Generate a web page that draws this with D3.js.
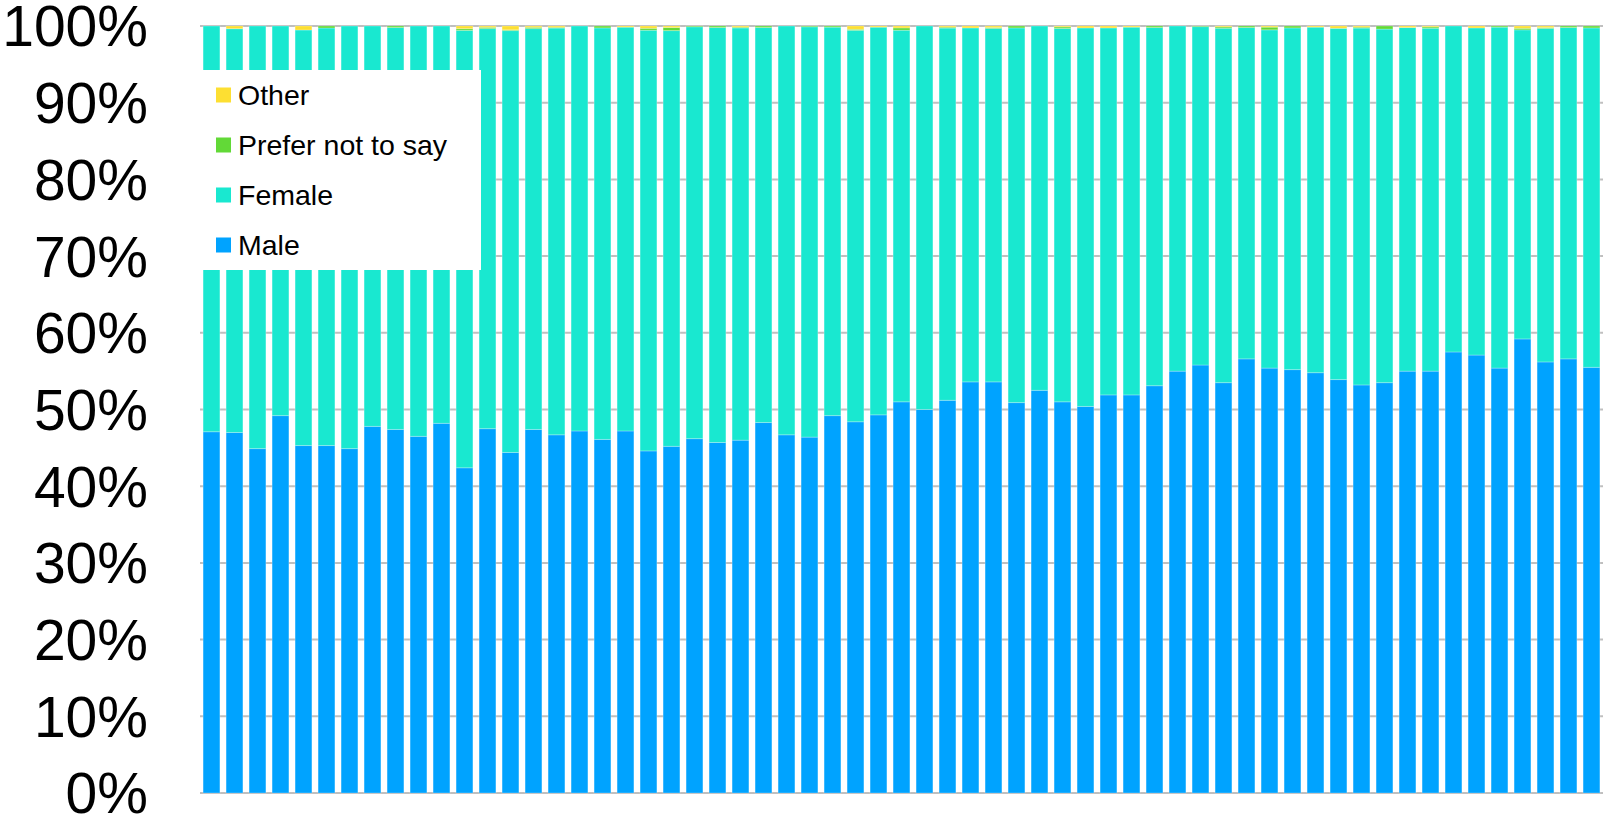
<!DOCTYPE html>
<html>
<head>
<meta charset="utf-8">
<script src="https://cdn.jsdelivr.net/npm/d3@7"></script>
<style>
    body { margin: 0; background: #fff; }
    svg { display: block; font-family: "Liberation Sans", Arial, sans-serif; }
</style>
</head>
<body>
<svg id="chart" width="1603" height="818"></svg>
<script>
// share of respondents (%) per bar, left to right
var male = [47.1, 47.0, 44.9, 49.2, 45.3, 45.3, 44.9, 47.8, 47.4, 46.5,
    48.2, 42.4, 47.5, 44.4, 47.4, 46.7, 47.2, 46.1, 47.2, 44.6,
    45.2, 46.2, 45.7, 46.0, 48.3, 46.7, 46.4, 49.2, 48.4, 49.3,
    51.0, 50.0, 51.2, 53.6, 53.6, 50.9, 52.5, 51.0, 50.4, 51.9,
    51.9, 53.1, 55.0, 55.8, 53.5, 56.6, 55.4, 55.2, 54.8, 53.9,
    53.2, 53.5, 55.0, 55.0, 57.5, 57.1, 55.4, 59.2, 56.2, 56.6,
    55.5];
var preferNot = [0, 0, 0, 0, 0, 0.26, 0, 0, 0.2, 0,
    0, 0.22, 0.17, 0.1, 0.17, 0.1, 0, 0.25, 0, 0.25,
    0.4, 0.1, 0.2, 0.1, 0.2, 0, 0.1, 0.15, 0.13, 0,
    0.3, 0, 0.12, 0, 0.12, 0.25, 0, 0.2, 0, 0,
    0, 0.2, 0, 0.08, 0.17, 0.2, 0.35, 0.25, 0, 0,
    0.12, 0.4, 0, 0.17, 0, 0, 0.15, 0.2, 0.12, 0.2,
    0.25];
var other = [0, 0.35, 0, 0, 0.52, 0, 0, 0, 0, 0,
    0, 0.35, 0.17, 0.5, 0.17, 0.17, 0, 0, 0.15, 0.3,
    0.2, 0, 0, 0.15, 0, 0, 0, 0, 0.43, 0.15,
    0.25, 0, 0.15, 0.25, 0.2, 0, 0, 0.12, 0.25, 0.25,
    0.15, 0, 0, 0, 0.12, 0, 0.15, 0, 0.15, 0.3,
    0.15, 0, 0.2, 0.12, 0, 0.25, 0, 0.3, 0.2, 0,
    0];
var seriesNames = ["Male", "Female", "Prefer not to say", "Other"];
var legendOrder = ["Other", "Prefer not to say", "Female", "Male"];
var tickValues = [0, 10, 20, 30, 40, 50, 60, 70, 80, 90, 100];

var colors = {
    "Male": "#00a3ff",
    "Female": "#19e8d0",
    "Prefer not to say": "#62d937",
    "Other": "#fddf32"
};

// rows for the stack, female fills the rest up to 100%
var rows = male.map(function(m, i) {
    return {
        idx: i,
        "Male": m,
        "Female": 100 - m - preferNot[i] - other[i],
        "Prefer not to say": preferNot[i],
        "Other": other[i]
    };
});

var svg = d3.select("#chart");

var x = d3.scaleBand()
    .domain(rows.map(function(d) { return d.idx; }))
    .range([200, 1603])
    .paddingInner(0.27)
    .paddingOuter(0.135);

var y = d3.scaleLinear()
    .domain([0, 100])
    .range([793, 26]);

// grid lines
svg.append("g")
    .selectAll("line")
    .data(tickValues)
    .enter()
    .append("line")
    .attr("x1", 200)
    .attr("x2", 1603)
    .attr("y1", function(d) { return y(d); })
    .attr("y2", function(d) { return y(d); })
    .attr("stroke", "#bfbfbf")
    .attr("stroke-width", 2);

// y labels
var yAxis = d3.axisLeft(y)
    .tickValues(tickValues)
    .tickSize(0)
    .tickPadding(0)
    .tickFormat(function(d) { return d + "%"; });

var axisG = svg.append("g")
    .attr("transform", "translate(148,0)")
    .call(yAxis);
axisG.select(".domain").remove();
axisG.selectAll("text")
    .attr("font-family", "'Liberation Sans', Arial, sans-serif")
    .attr("font-size", 57)
    .attr("fill", "#000")
    .attr("dy", "0.35em");

var stack = d3.stack().keys(seriesNames);
var layers = stack(rows);

var layerG = svg.append("g")
    .selectAll("g")
    .data(layers)
    .enter()
    .append("g")
    .attr("fill", function(d) { return colors[d.key]; });

layerG.selectAll("rect")
    .data(function(d) { return d; })
    .enter()
    .filter(function(d) { return d[1] - d[0] > 0; })
    .append("rect")
    .attr("x", function(d) { return x(d.data.idx); })
    .attr("width", x.bandwidth())
    .attr("y", function(d) { return y(d[1]); })
    .attr("height", function(d) { return y(d[0]) - y(d[1]); })
    .attr("stroke", "rgba(255,255,255,0.25)")
    .attr("stroke-width", 1);

// legend
var legend = svg.append("g");

legend.append("rect")
    .attr("x", 198)
    .attr("y", 70)
    .attr("width", 283)
    .attr("height", 200)
    .attr("fill", "#fff");

var item = legend.selectAll(".item")
    .data(legendOrder)
    .enter()
    .append("g")
    .attr("class", "item")
    .attr("transform", function(d, i) {
        return "translate(216," + (95 + i * 50) + ")";
    });

item.append("rect")
    .attr("x", 0)
    .attr("y", -7.5)
    .attr("width", 15)
    .attr("height", 15)
    .attr("fill", function(d) { return colors[d]; });

item.append("text")
    .attr("x", 22)
    .attr("dy", "0.36em")
    .attr("font-family", "'Liberation Sans', Arial, sans-serif")
    .attr("font-size", 28.5)
    .attr("fill", "#000")
    .text(function(d) { return d; });
</script>
</body>
</html>
